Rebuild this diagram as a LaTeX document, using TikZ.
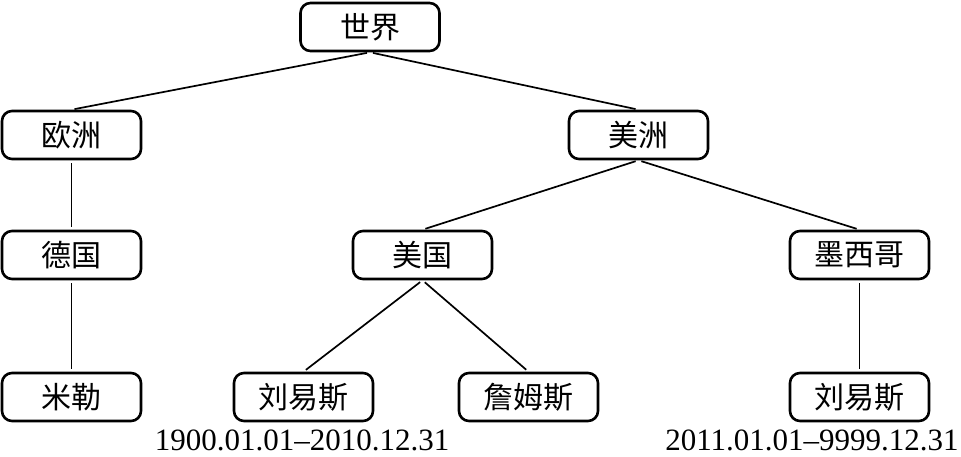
\documentclass[tikz,border=0pt]{standalone}
\usepackage{fontspec}
\setmainfont{Liberation Serif}
\newfontfamily\cjk{Noto Sans CJK SC}
\begin{document}
\begin{tikzpicture}[x=1pt,y=-1pt,
  box/.style={draw,line width=2.6pt,rounded corners=10pt,minimum width=139pt,minimum height=48pt,inner sep=0pt,font=\cjk\fontsize{30}{32}\selectfont},
  link/.style={line width=1.7pt,shorten <=3pt,shorten >=3pt},
  datelbl/.style={inner sep=0pt,font=\fontsize{31}{33}\selectfont}]
\useasboundingbox (0,0) rectangle (961,457);
\node[box] (world) at (370,27) {世界};
\node[box] (eu) at (71.5,135) {欧洲};
\node[box] (am) at (638.5,135) {美洲};
\node[box] (de) at (71.5,255) {德国};
\node[box] (us) at (422.5,255) {美国};
\node[box] (mx) at (859.5,255) {墨西哥};
\node[box] (miller) at (71.5,397) {米勒};
\node[box] (lewis1) at (303.5,397) {刘易斯};
\node[box] (james) at (528.5,397) {詹姆斯};
\node[box] (lewis2) at (859.5,397) {刘易斯};
\node[datelbl] (d1) at (302,440) {1900.01.01–2010.12.31};
\node[datelbl] (d2) at (812,440) {2011.01.01–9999.12.31};
\draw[link] (world.south) -- (eu.north);
\draw[link] (world.south) -- (am.north);
\draw[link] (eu.south) -- (de.north);
\draw[link] (de.south) -- (miller.north);
\draw[link] (am.south) -- (us.north);
\draw[link] (am.south) -- (mx.north);
\draw[link] (us.south) -- (lewis1.north);
\draw[link] (us.south) -- (james.north);
\draw[link] (mx.south) -- (lewis2.north);
\end{tikzpicture}
\end{document}
